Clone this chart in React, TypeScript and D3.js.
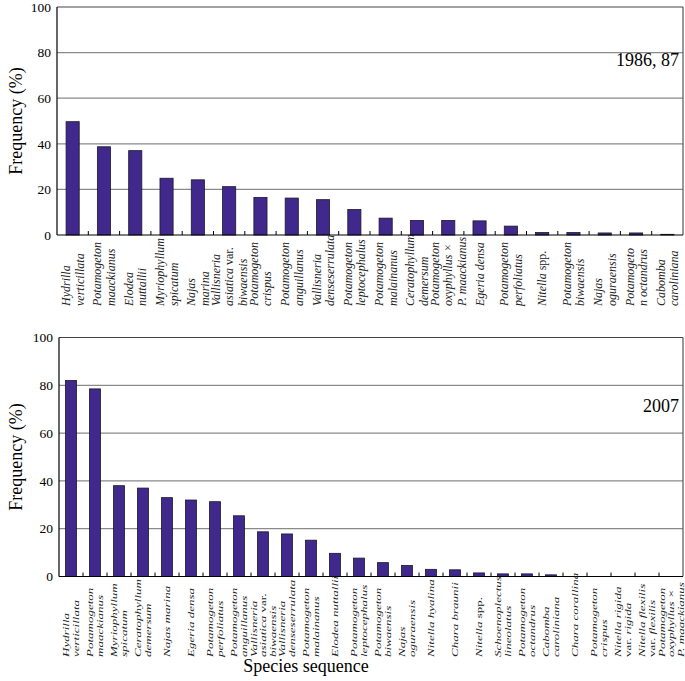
import React from 'react';
import { scaleBand, scaleLinear } from 'd3';

// species labels (line breaks as in the figure)
const species1986: string[][] = [
  ['Hydrilla', 'verticillata'],
  ['Potamogeton', 'maackianus'],
  ['Elodea', 'nuttallii'],
  ['Myriophyllum', 'spicatum'],
  ['Najas', 'marina'],
  ['Vallisneria', 'asiatica var.', 'biwaensis'],
  ['Potamogeton', 'crispus'],
  ['Potamogeton', 'anguillanus'],
  ['Vallisneria', 'denseserrulata'],
  ['Potamogeton', 'leptocephalus'],
  ['Potamogeton', 'malainanus'],
  ['Ceratophyllum', 'demersum'],
  ['Potamogeton', 'oxyphyllus ×', 'P. maackianus'],
  ['Egeria densa'],
  ['Potamogeton', 'perfoliatus'],
  ['Nitella spp.'],
  ['Potamogeton', 'biwaensis'],
  ['Najas', 'oguraensis'],
  ['Potamogeto', 'n octandrus'],
  ['Cabomba', 'caroliniana'],
];
const freq1986 = [49.7, 38.7, 37, 24.9, 24.2, 21.2, 16.5, 16.2, 15.5, 11.2, 7.4, 6.4, 6.4, 6.2, 3.9, 1.1, 1.1, 0.9, 0.9, 0.3];

const species2007: string[][] = [
  ['Hydrilla', 'verticillata'],
  ['Potamogeton', 'maackianus'],
  ['Myriophyllum', 'spicatum'],
  ['Ceratophyllum', 'demersum'],
  ['Najas marina'],
  ['Egeria densa'],
  ['Potamogeton', 'perfoliatus'],
  ['Potamogeton', 'anguillanus'],
  ['Vallisneria', 'asiatica var.', 'biwaensis'],
  ['Vallisneria', 'denseserrulata'],
  ['Potamogeton', 'malainanus'],
  ['Elodea nuttallii'],
  ['Potamogeton', 'leptocephalus'],
  ['Potamogeton', 'biwaensis'],
  ['Najas', 'oguraensis'],
  ['Nitella hyalina'],
  ['Chara braunii'],
  ['Nitella spp.'],
  ['Schoenoplectus', 'lineolatus'],
  ['Potamogeton', 'octandrus'],
  ['Cabomba', 'caroliniana'],
  ['Chara corallina'],
  ['Potamogeton', 'crispus'],
  ['Nitella rigida', 'var. rigida'],
  ['Nitella flexilis', 'var. flexilis'],
  ['Potamogeton', 'oxyphyllus ×', 'P. maackianus'],
];
const freq2007 = [82, 78.5, 38, 37, 33, 32, 31.3, 25.4, 18.7, 17.8, 15.2, 9.7, 7.7, 5.8, 4.6, 3, 2.8, 1.5, 1.1, 1.1, 0.7, 0, 0, 0, 0, 0];

const yTicks = [0, 20, 40, 60, 80, 100];

const serif = '"Times New Roman", "Liberation Serif", serif';
const barFill = '#41288c';

// words printed upright inside the italic names
const upright = new Set(['var.', 'spp.']);

function LabelLine({ text }: { text: string }) {
  const words = text.split(' ');
  return (
    <>
      {words.map((w, i) => (
        <tspan key={i} fontStyle={upright.has(w) ? 'normal' : 'italic'}>
          {(i > 0 ? ' ' : '') + w}
        </tspan>
      ))}
    </>
  );
}

type PanelProps = {
  labels: string[][];
  values: number[];
  left: number;
  right: number;
  top: number;
  bottom: number;
  pad: number;
  title: string;
  titleY: number;
  labelStart: number;
  labelSize: number;
  lineGap: number;
  squash: number;
};

function Panel(p: PanelProps) {
  const x = scaleBand<number>()
    .domain(p.values.map((_, i) => i))
    .range([p.left, p.right])
    .paddingInner(p.pad)
    .paddingOuter(p.pad / 2);
  const y = scaleLinear().domain([0, 100]).range([p.bottom, p.top]);
  const step = x.step();
  const bw = x.bandwidth();
  const gap = (step - bw) / 2;

  return (
    <g>
      {yTicks.slice(1, -1).map(t => (
        <line key={t} x1={p.left} x2={p.right} y1={y(t)} y2={y(t)} stroke="#8a8a8a" strokeWidth={1.2} />
      ))}
      {yTicks.map(t => (
        <text key={t} x={p.left - 6} y={y(t)} dy="0.35em" textAnchor="end" fontSize={13.5} fontFamily={serif}>
          {t}
        </text>
      ))}
      {p.values.map((v, i) => (
        <rect
          key={i}
          x={x(i)!}
          y={y(v)}
          width={bw}
          height={p.bottom - y(v)}
          fill={barFill}
          stroke="#1a1a2a"
          strokeWidth={0.8}
        />
      ))}
      {p.values.slice(1).map((_, i) => (
        <line
          key={i}
          x1={x(i + 1)! - gap}
          x2={x(i + 1)! - gap}
          y1={p.bottom}
          y2={p.bottom - 4}
          stroke="#000"
          strokeWidth={1}
        />
      ))}
      <line x1={p.left} x2={p.right} y1={p.top} y2={p.top} stroke="#444" strokeWidth={1.2} />
      <line x1={p.right} x2={p.right} y1={p.top} y2={p.bottom} stroke="#555" strokeWidth={1.2} />
      <line x1={p.left} x2={p.left} y1={p.top} y2={p.bottom} stroke="#000" strokeWidth={1.2} />
      <line x1={p.left} x2={p.right} y1={p.bottom} y2={p.bottom} stroke="#000" strokeWidth={1.2} />
      {p.labels.map((lines, i) => {
        const cx = x(i)! + bw / 2;
        return lines.map((ln, k) => {
          const off = (k - (lines.length - 1) / 2) * p.lineGap;
          return (
            <text
              key={`${i}-${k}`}
              transform={`translate(${cx + off}, ${p.labelStart}) rotate(-90) scale(1, ${p.squash})`}
              dy="0.35em"
              fontSize={p.labelSize}
              fontFamily={serif}
              fill="#222"
            >
              <LabelLine text={ln} />
            </text>
          );
        });
      })}
      <text x={p.right - 4} y={p.titleY} textAnchor="end" fontSize={18} fontFamily={serif}>
        {p.title}
      </text>
      <text
        transform={`translate(16, ${(p.top + p.bottom) / 2}) rotate(-90)`}
        dy="0.35em"
        textAnchor="middle"
        fontSize={18}
        fontFamily={serif}
      >
        Frequency (%)
      </text>
    </g>
  );
}

export default function App() {
  return (
    <svg
      width={685}
      height={681}
      style={{ position: 'absolute', left: 0, top: 0, background: '#fff' }}
    >
      <Panel
        labels={species1986}
        values={freq1986}
        left={57}
        right={683}
        top={7}
        bottom={235}
        pad={0.58}
        title="1986, 87"
        titleY={66}
        labelStart={306}
        labelSize={12}
        lineGap={13.5}
        squash={1}
      />
      <Panel
        labels={species2007}
        values={freq2007}
        left={59}
        right={683}
        top={337.5}
        bottom={576.5}
        pad={0.54}
        title="2007"
        titleY={412}
        labelStart={657}
        labelSize={13}
        lineGap={9.5}
        squash={0.7}
      />
      <text x={306} y={672} textAnchor="middle" fontSize={18} fontFamily={serif}>
        Species sequence
      </text>
    </svg>
  );
}
